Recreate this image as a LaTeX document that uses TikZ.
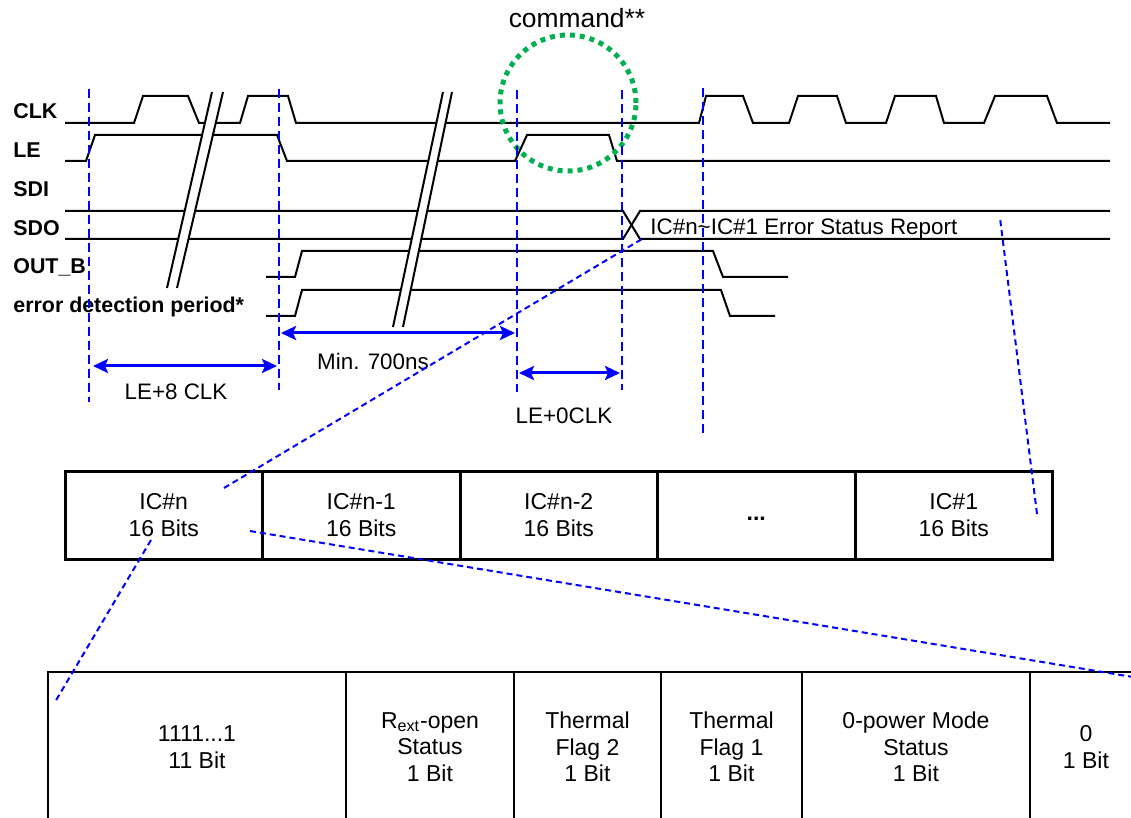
\documentclass[tikz,border=0pt]{standalone}
\usepackage{fontspec}
\setmainfont{Liberation Sans}
\usepackage{xcolor}
\usetikzlibrary{positioning, arrows.meta}
\definecolor{ringgreen}{RGB}{0,176,80}

\begin{document}
\begin{tikzpicture}[
    x=0.5pt, y=-0.5pt,
    node distance=0pt,
    sig/.style={anchor=base west, inner sep=0, font=\bfseries\fontsize{10.7}{12}\selectfont},
    lbl/.style={inner sep=0, font=\fontsize{11.2}{13}\selectfont},
    wave/.style={line width=1pt},
    guide/.style={draw=blue, line width=1.25pt, dash pattern=on 4.5pt off 2.5pt},
    zoomline/.style={draw=blue, line width=1pt, dash pattern=on 3pt off 2pt},
    dim/.style={<->, >={Stealth[length=7.5pt, width=7pt, inset=1.5pt]}, blue, line width=1.5pt},
    ring/.style={circle, draw=ringgreen, line width=2.5pt, dash pattern=on 2.5pt off 2.5pt, minimum size=68pt, inner sep=0},
    cell/.style={rectangle, draw, line width=1.5pt, minimum width=98.75pt, minimum height=43.5pt, inner sep=0, outer sep=0, align=center, font=\fontsize{11.5}{13.5}\selectfont},
    bitcell/.style={rectangle, draw, line width=1pt, minimum height=75pt, inner sep=0, outer sep=0, align=center, font=\fontsize{11.5}{13.25}\selectfont}
]
\useasboundingbox (0,0) rectangle (1131,818);
\clip (0,0) rectangle (1131,818);

% Signal names
\node[sig] (clk) at (13,119) {CLK};
\node[sig] (le) at (13,158) {LE};
\node[sig] (sdi) at (13,197) {SDI};
\node[sig] (sdo) at (13,236) {SDO};
\node[sig] (outb) at (13,274) {OUT\_B};
\node[sig] (edp) at (13,313) {error detection period*};

% Waveforms
\draw[wave] (65,123) -- (134,123) -- (143,96) -- (188,96) -- (199,123) -- (240,123) -- (248,96) -- (288,96) -- (296,123)
    -- (699,123) -- (706,96) -- (743,96) -- (753,123) -- (789,123) -- (798,96) -- (837,96) -- (846,123)
    -- (886,123) -- (895,96) -- (936,96) -- (944,123) -- (984,123) -- (995,96) -- (1047,96) -- (1057,123) -- (1110,123);
\draw[wave] (65,161) -- (86,161) -- (95,135) -- (277,135) -- (287,161) -- (515,161) -- (527,135) -- (609,135) -- (617,161) -- (1110,161);
\draw[wave] (65,211) -- (623,211) -- (640,239) -- (1110,239);
\draw[wave] (65,239) -- (623,239) -- (640,211) -- (1110,211);
\draw[wave] (266,277) -- (295,277) -- (302,251) -- (713,251) -- (723,277) -- (788,277);
\draw[wave] (266,316) -- (295,316) -- (302,290) -- (721,290) -- (730,316) -- (775,316);

% Time breaks
\fill[white] (167,288) -- (212,92) -- (223,92) -- (177,288) -- cycle;
\draw[wave] (167,288) -- (212,92) (177,288) -- (223,92);
\fill[white] (393,327) -- (443,92) -- (452,92) -- (403,327) -- cycle;
\draw[wave] (393,327) -- (443,92) (403,327) -- (452,92);

% Command ring
\node[ring] (cmd) at (568,103) {};
\node[lbl, anchor=base, font=\fontsize{13.2}{15}\selectfont] (cmdtxt) at (577,28) {command**};

% SDO data
\node[lbl, anchor=base west] (report) at (650,235) {IC\#n\textasciitilde IC\#1 Error Status Report};

% Guides
\draw[guide] (89,89) -- (89,402);
\draw[guide] (279,89) -- (279,390);
\draw[guide] (517,90) -- (517,392);
\draw[guide] (622,90) -- (622,390);
\draw[guide] (703,88) -- (703,437);

% Timing
\coordinate (t1a) at (93,366);
\coordinate (t1b) at (277,366);
\coordinate (t2a) at (281,333);
\coordinate (t2b) at (515,333);
\coordinate (t3a) at (519,373);
\coordinate (t3b) at (620,373);
\draw[dim] (t1a) -- (t1b);
\draw[dim] (t2a) -- (t2b);
\draw[dim] (t3a) -- (t3b);
\node[lbl, anchor=base] (le8) at (176,400) {LE+8 CLK};
\node[lbl, anchor=base] (min) at (373,370) {Min. 700ns};
\node[lbl, anchor=base] (le0) at (564,423) {LE+0CLK};

% Report frame
\node[cell] (icn) at (163.75,515.5) {IC\#n\\16 Bits};
\node[cell, right=of icn] (icn1) {IC\#n-1\\16 Bits};
\node[cell, right=of icn1] (icn2) {IC\#n-2\\16 Bits};
\node[cell, right=of icn2] (more) {\strut\textbf{...}};
\node[cell, right=of more] (ic1) {IC\#1\\16 Bits};

% Bit fields
\node[bitcell, minimum width=149pt] (ones) at (197,747) {1111...1\\11 Bit};
\node[bitcell, minimum width=84pt, right=of ones] (rext) {R\textsubscript{ext}-open\\Status\\1 Bit};
\node[bitcell, minimum width=73.5pt, right=of rext] (tf2) {Thermal\\Flag 2\\1 Bit};
\node[bitcell, minimum width=70.5pt, right=of tf2] (tf1) {Thermal\\Flag 1\\1 Bit};
\node[bitcell, minimum width=114pt, right=of tf1] (zpm) {0-power Mode\\Status\\1 Bit};
\node[bitcell, minimum width=56pt, right=of zpm] (zero) {0\\1 Bit};

% Zoom lines
\coordinate (zA) at (224,488);
\coordinate (zB) at (642,239);
\coordinate (zC) at (1037,514);
\coordinate (zD) at (1000,218);
\coordinate (zE) at (151,540);
\coordinate (zF) at (55,702);
\coordinate (zG) at (250,531);
\coordinate (zH) at (1145,679);
\draw[zoomline] (zA) -- (zB);
\draw[zoomline] (zC) -- (zD);
\draw[zoomline] (zE) -- (zF);
\draw[zoomline] (zG) -- (zH);
\end{tikzpicture}
\end{document}
